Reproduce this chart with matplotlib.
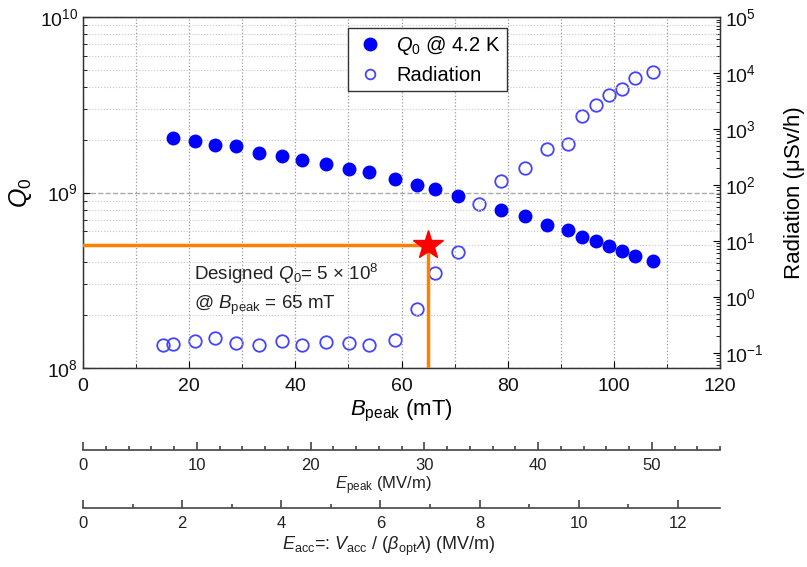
import numpy as np
import matplotlib
matplotlib.use("Agg")
import matplotlib.pyplot as plt
from matplotlib.ticker import MultipleLocator, LogLocator, NullFormatter
from matplotlib.lines import Line2D

plt.rcParams['font.family'] = ['Liberation Sans', 'DejaVu Sans']
plt.rcParams['mathtext.fontset'] = 'custom'
plt.rcParams['mathtext.rm'] = 'Liberation Sans'
plt.rcParams['mathtext.it'] = 'Liberation Sans:italic'
plt.rcParams['mathtext.bf'] = 'Liberation Sans:bold'

# ---- data ----
b_q0 = [16.9, 21.1, 24.9, 28.8, 33.2, 37.5, 41.2, 45.7, 50.1, 53.8, 58.7, 62.9,
        66.3, 70.7, 78.7, 83.3, 87.4, 91.4, 94.0, 96.6, 99.1, 101.6, 104.0, 107.4]
q0 = [2.04e9, 1.96e9, 1.86e9, 1.83e9, 1.69e9, 1.62e9, 1.54e9, 1.45e9, 1.36e9, 1.31e9,
      1.19e9, 1.11e9, 1.05e9, 9.6e8, 7.95e8, 7.35e8, 6.56e8, 6.11e8, 5.60e8, 5.29e8,
      4.96e8, 4.66e8, 4.35e8, 4.08e8]
b_rad = [15.1, 17.0, 21.1, 24.9, 28.8, 33.2, 37.5, 41.2, 45.7, 50.1, 53.8, 58.7, 62.9,
         66.3, 70.7, 74.6, 78.7, 83.3, 87.4, 91.4, 94.0, 96.6, 99.1, 101.6, 104.0, 107.4]
rad = [0.139, 0.145, 0.162, 0.185, 0.151, 0.135, 0.162, 0.137, 0.153, 0.147, 0.139,
       0.169, 0.60, 2.65, 6.28, 45.8, 115.6, 201, 440, 533, 1730, 2650, 4100, 5180,
       8240, 10540]
design_b = 65
design_q0 = 5e8

b_lim = (0, 120)
q_lim = (1e8, 1e10)
r_lim = (10 ** -1.273, 1e5)
epeak_lim = (0, 56.0)
eacc_lim = (0, 12.85)

# ---- figure ----
W, H = 807, 567
fig = plt.figure(figsize=(W / 100, H / 100), dpi=100)
L, R, T, B = 83, 720, 17, 368
ax = fig.add_axes([L / W, 1 - B / H, (R - L) / W, (B - T) / H])

ax.set_xlim(*b_lim)
ax.set_yscale('log')
ax.set_ylim(*q_lim)
ax.xaxis.set_major_locator(MultipleLocator(20))
ax.xaxis.set_minor_locator(MultipleLocator(10))
ax.yaxis.set_major_locator(LogLocator(base=10, numticks=10))
ax.yaxis.set_minor_locator(LogLocator(base=10, subs=np.arange(2, 10), numticks=20))
ax.yaxis.set_minor_formatter(NullFormatter())
ax.tick_params(which='both', direction='in', labelsize=14, right=False, top=False,
               labelcolor='#111111')
ax.tick_params(which='major', length=5)
ax.tick_params(which='minor', length=3)
ax.tick_params(axis='x', pad=7)
ax.grid(True, which='major', axis='x', linestyle=':', color='#999999', linewidth=0.9)
ax.grid(True, which='minor', axis='x', linestyle=':', color='#999999', linewidth=0.9)
ax.grid(True, which='major', axis='y', linestyle='--', color='#aaaaaa', linewidth=1.0)
ax.grid(True, which='minor', axis='y', linestyle=':', color='#c8c8c8', linewidth=0.8)
for s in ax.spines.values():
    s.set_color('#333333')
    s.set_linewidth(1.0)

ax.plot(b_q0, q0, 'o', color='#0000ff', markersize=9, zorder=5)

# design point
ax.plot([b_lim[0], design_b], [design_q0, design_q0], color='#ff8000', lw=2.5, zorder=3)
ax.plot([design_b, design_b], [q_lim[0], design_q0], color='#ff8000', lw=2.5, zorder=3)
ax.plot([design_b], [design_q0], marker='*', color='#ff0000', markersize=22, zorder=7,
        linestyle='none')
ax.text(21.0, 3.45e8, r'Designed $Q_{\rm 0}$= 5 × 10$^{8}$', fontsize=13.5,
        va='center', ha='left', color='#222222')
ax.text(21.0, 2.27e8, r'@ $B_{\rm peak}$ = 65 mT', fontsize=13.5,
        va='center', ha='left', color='#222222')

ax.set_ylabel(r'$Q_{\rm 0}$', fontsize=18, labelpad=4)
ax.set_xlabel(r'$B_{\rm peak}$ (mT)', fontsize=16, labelpad=2)

# right axis
axr = ax.twinx()
axr.set_yscale('log')
axr.set_ylim(*r_lim)
axr.yaxis.set_major_locator(LogLocator(base=10, numticks=12))
axr.yaxis.set_minor_locator(LogLocator(base=10, subs=np.arange(2, 10), numticks=30))
axr.yaxis.set_minor_formatter(NullFormatter())
axr.tick_params(which='both', direction='in', labelsize=14, labelcolor='#111111')
axr.tick_params(which='major', length=5)
axr.tick_params(which='minor', length=3)
axr.plot(b_rad, rad, 'o', markerfacecolor='none', markeredgecolor='#4444ff',
         markeredgewidth=1.3, markersize=9, zorder=5)
axr.set_ylabel('Radiation (μSv/h)', fontsize=16, labelpad=15)
ax.set_zorder(axr.get_zorder() + 1)
ax.patch.set_visible(False)

handles = [
    Line2D([], [], marker='o', linestyle='none', color='#0000ff', markersize=9),
    Line2D([], [], marker='o', linestyle='none', markerfacecolor='none',
           markeredgecolor='#4444ff', markeredgewidth=1.3, markersize=7),
]
leg = ax.legend(handles, [r'$Q_{\rm 0}$ @ 4.2 K', 'Radiation'], loc='upper left',
                bbox_to_anchor=((348 - L) / (R - L), (B - 28) / (B - T)),
                borderaxespad=0, fancybox=False, framealpha=1, edgecolor='#333333',
                fontsize=14.5, handletextpad=0.5, borderpad=0.3, labelspacing=0.45,
                handlelength=1.6)
leg.get_frame().set_linewidth(1.0)
leg.set_zorder(10)


def sub_axis(ypix, lim, major, minor, label, labelsize, label_x, label_y):
    a = fig.add_axes([L / W, 1 - ypix / H, (R - L) / W, 1e-4])
    a.set_xlim(*lim)
    a.set_yticks([])
    for k in ('left', 'right', 'top'):
        a.spines[k].set_visible(False)
    a.spines['bottom'].set_color('#444444')
    a.spines['bottom'].set_linewidth(1.2)
    a.patch.set_visible(False)
    a.xaxis.set_major_locator(MultipleLocator(major))
    a.xaxis.set_minor_locator(MultipleLocator(minor))
    a.tick_params(which='both', direction='in', labelsize=12, color='#444444', pad=6,
                  labelcolor='#222222')
    a.tick_params(which='major', length=6, width=1.2)
    a.tick_params(which='minor', length=3, width=1.2)
    fig.text(label_x / W, 1 - label_y / H, label, fontsize=labelsize, color='#222222',
             ha='center', va='center')
    return a


sub_axis(450, epeak_lim, 10, 2, r'$E_{\rm peak}$ (MV/m)', 12, 383, 486)
sub_axis(508, eacc_lim, 2, 1,
         r'$E_{\rm acc}$=: $V_{\rm acc}$ / ($\beta_{\rm opt}\lambda$) (MV/m)', 13, 389, 546)

fig.savefig('out.png', dpi=100)
